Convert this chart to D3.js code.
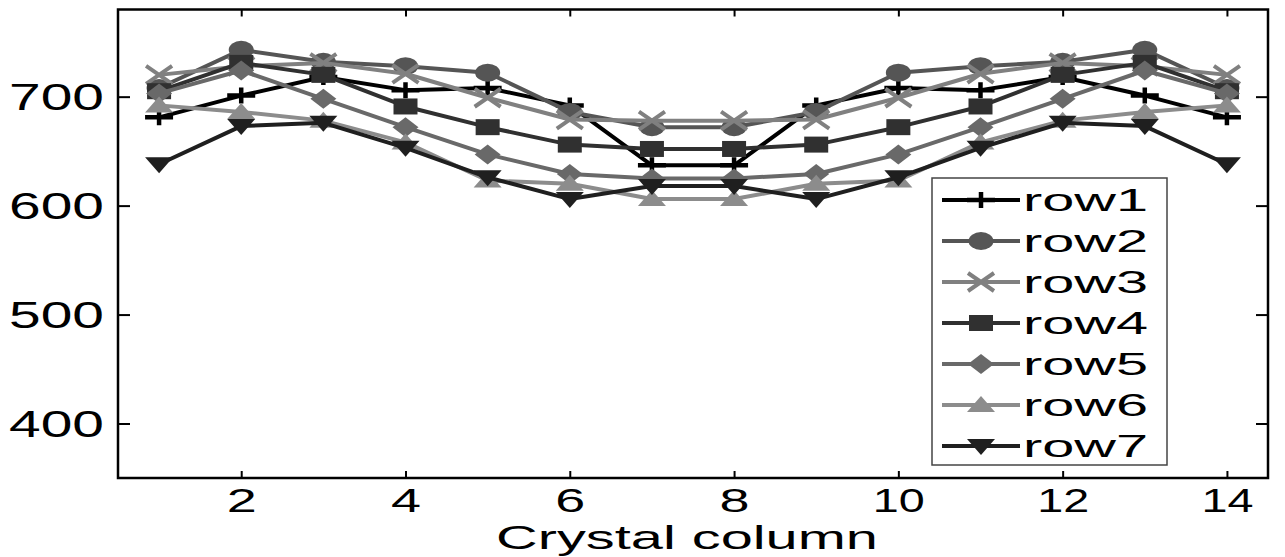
<!DOCTYPE html>
<html><head><meta charset="utf-8">
<script src="https://cdn.jsdelivr.net/npm/d3@7"></script>
<style>
body{margin:0;background:#fff}
svg{display:block}
text{font-family:"Liberation Sans",Arial,Helvetica,sans-serif;fill:#000}
</style>
</head><body>
<svg id="chart" width="1285" height="557"></svg>
<script>
// ---- data ----
const columns = [1,2,3,4,5,6,7,8,9,10,11,12,13,14];
const seriesNames = ["row1","row2","row3","row4","row5","row6","row7"];
const row1 = [681,701,718,706,708,692,637,637,692,708,706,718,701,681];
const row2 = [708,743,732,728,722,686,672,672,686,722,728,732,743,708];
const row3 = [720,728,731,721,699,679,678,678,679,699,721,731,728,720];
const row4 = [705,731,720,691,672,656,652,652,656,672,691,720,731,705];
const row5 = [703,724,698,672,647,629,625,625,629,647,672,698,724,703];
const row6 = [692,686,678,658,623,620,606,606,620,623,658,678,686,692];
const row7 = [638,673,676,653,626,606,618,618,606,626,653,676,673,638];
const xTicks = [2,4,6,8,10,12,14];
const yTicks = [400,500,600,700];
const xLabel = "Crystal column";

// ---- styles ----
const seriesValues = [row1,row2,row3,row4,row5,row6,row7];
const colors = ["#000000","#555555","#808080","#303030","#696969","#8c8c8c","#1f1f1f"];
const markers = ["plus","circle","x","square","diamond","triUp","triDown"];

const svg = d3.select("#chart");
const L = 118, R = 1268, T = 9.5, B = 478;
const x = d3.scaleLinear().domain([0.5,14.5]).range([L,R]);
const y = d3.scaleLinear().domain([350,780]).range([B,T]);

function markerShape(g, type, color){
  if(type==="plus"){
    g.append("path").attr("d","M-14,0H14M0,-8V8").attr("stroke",color).attr("stroke-width",4.5).attr("fill","none");
  } else if(type==="x"){
    g.append("path").attr("d","M-13,-9L13,9M-13,9L13,-9").attr("stroke",color).attr("stroke-width",4).attr("fill","none");
  } else if(type==="circle"){
    g.append("ellipse").attr("rx",12.5).attr("ry",9).attr("fill",color);
  } else if(type==="square"){
    g.append("rect").attr("x",-12).attr("y",-8).attr("width",24).attr("height",16).attr("fill",color);
  } else if(type==="diamond"){
    g.append("path").attr("d","M0,-10L13,0L0,10L-13,0Z").attr("fill",color);
  } else if(type==="triUp"){
    g.append("path").attr("d","M0,-9L14,7L-14,7Z").attr("fill",color);
  } else if(type==="triDown"){
    g.append("path").attr("d","M0,9L14,-7L-14,-7Z").attr("fill",color);
  }
}

// ---- series ----
const line = d3.line().x((d,i)=>x(columns[i])).y(d=>y(d));
const plot = svg.append("g");
seriesValues.forEach((vals,si)=>{
  const g = plot.append("g");
  g.append("path").datum(vals).attr("d",line)
    .attr("fill","none").attr("stroke",colors[si]).attr("stroke-width",4).attr("stroke-linejoin","round");
  g.selectAll("g.m").data(vals).enter().append("g").attr("class","m")
    .attr("transform",(d,i)=>`translate(${x(columns[i])},${y(d)})`)
    .each(function(){ markerShape(d3.select(this), markers[si], colors[si]); });
});

// ---- axes ----
const axB = svg.append("g").attr("transform",`translate(0,${B})`)
  .call(d3.axisBottom(x).tickValues(xTicks).tickSizeInner(-7).tickSizeOuter(0).tickPadding(0));
const axT = svg.append("g").attr("transform",`translate(0,${T})`)
  .call(d3.axisTop(x).tickValues(xTicks).tickSizeInner(-7).tickSizeOuter(0).tickFormat(""));
const axL = svg.append("g").attr("transform",`translate(${L},0)`)
  .call(d3.axisLeft(y).tickValues(yTicks).tickSizeInner(-12).tickSizeOuter(0).tickPadding(0));
const axR = svg.append("g").attr("transform",`translate(${R},0)`)
  .call(d3.axisRight(y).tickValues(yTicks).tickSizeInner(-12).tickSizeOuter(0).tickFormat(""));
[axB,axT,axL,axR].forEach(a=>{
  a.select(".domain").remove();
  a.selectAll(".tick line").attr("stroke","#000").attr("stroke-width",2);
});
axB.selectAll(".tick text")
  .attr("y",34).attr("dy",0).attr("font-size",33)
  .attr("textLength",d=>String(d).length>1?52:30).attr("lengthAdjust","spacingAndGlyphs")
  .attr("fill","#000");
axL.selectAll(".tick text")
  .attr("x",-14).attr("dy","0.36em").attr("font-size",36)
  .attr("textLength",95).attr("lengthAdjust","spacingAndGlyphs")
  .attr("fill","#000");

// frame
svg.append("rect").attr("x",L).attr("y",T).attr("width",R-L).attr("height",B-T)
  .attr("fill","none").attr("stroke","#000").attr("stroke-width",2.5);

// x label
svg.append("text").attr("x",687).attr("y",549).attr("text-anchor","middle")
  .attr("font-size",33).attr("textLength",382).attr("lengthAdjust","spacingAndGlyphs").text(xLabel);

// ---- legend ----
const leg = svg.append("g");
leg.append("rect").attr("x",932).attr("y",178).attr("width",235).attr("height",287)
  .attr("fill","#fff").attr("stroke","#444").attr("stroke-width",1.5);
seriesNames.forEach((name,si)=>{
  const ly = 200 + si*41;
  leg.append("line").attr("x1",942).attr("x2",1020).attr("y1",ly).attr("y2",ly)
    .attr("stroke",colors[si]).attr("stroke-width",4);
  const mg = leg.append("g").attr("transform",`translate(981,${ly})`);
  markerShape(mg, markers[si], colors[si]);
  leg.append("text").attr("x",1023).attr("y",ly+11).attr("font-size",31)
    .attr("textLength",125).attr("lengthAdjust","spacingAndGlyphs").text(name);
});
</script>
</body></html>
